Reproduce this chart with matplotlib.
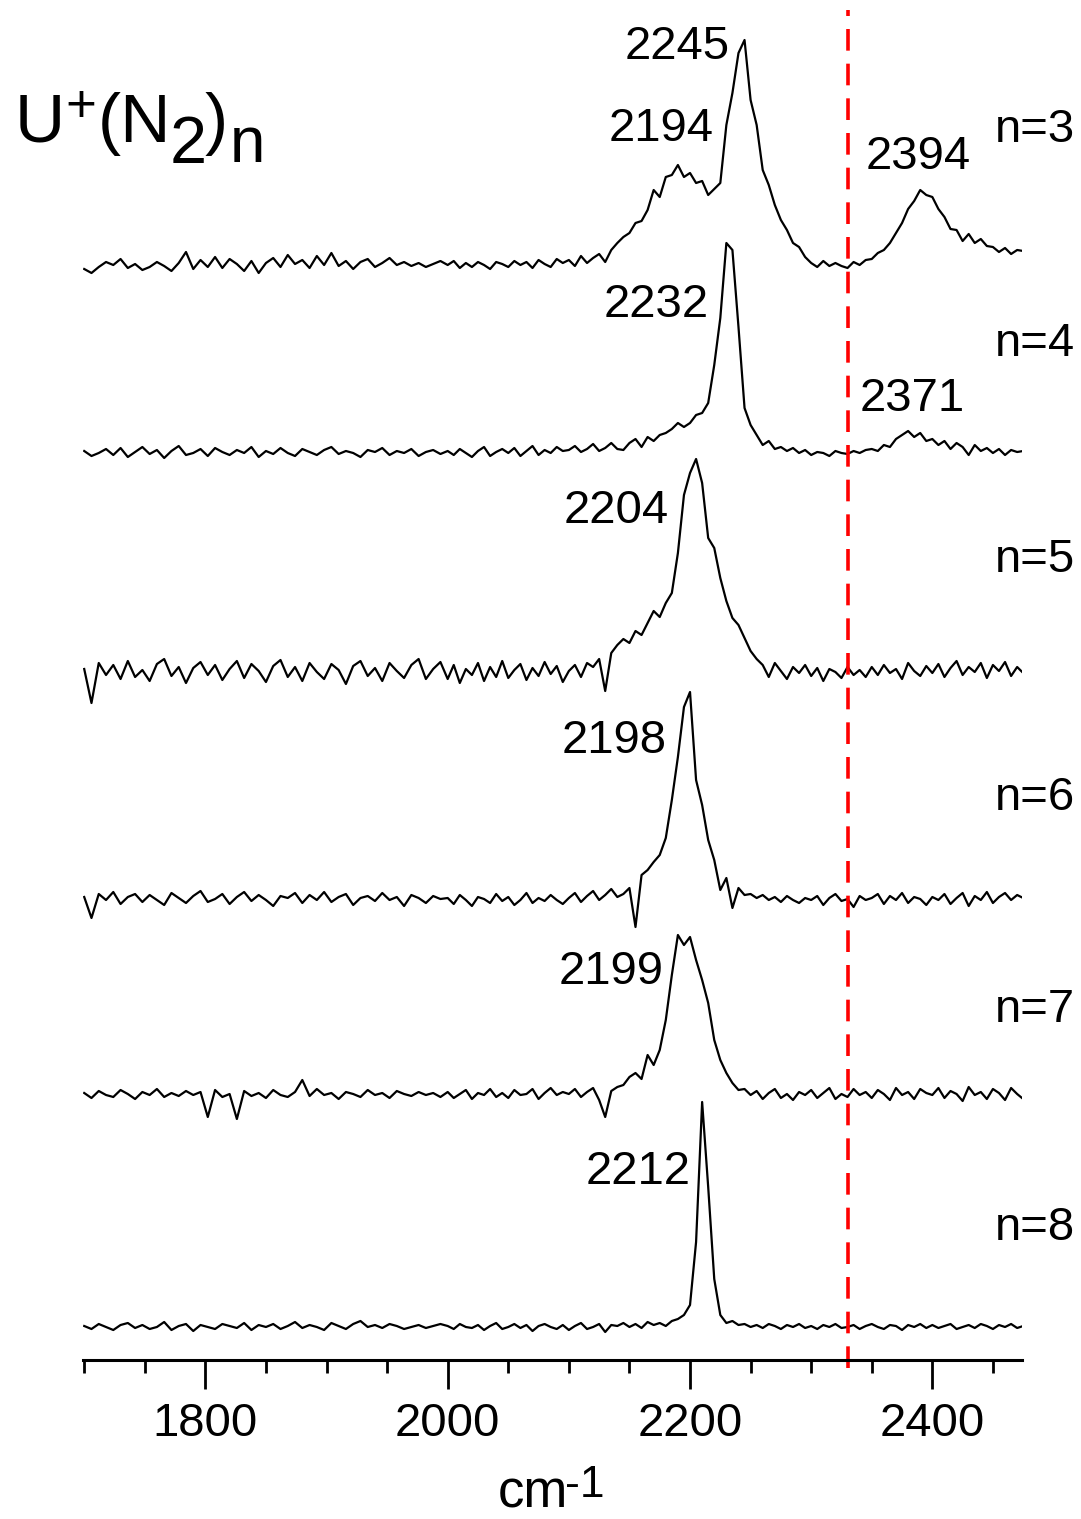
import numpy as np
import matplotlib.pyplot as plt
from matplotlib.ticker import MultipleLocator

plt.rcParams['font.family'] = ['Liberation Sans', 'DejaVu Sans']

# wavenumber grids: coarse scan below 2000, finer above
x_left = np.arange(1700, 2000, 6)
x_right = np.arange(2000, 2476, 5)
wavenumber = np.concatenate([x_left, x_right])

# intensities (arb. units) for each cluster size
n3_left = [-4, -8, -2, 3, 0, 6, -3, 1, -5, -2,
           3, -1, -6, 2, 13, -4, 5, -2, 8, -3,
           6, 1, -6, 4, -8, 2, 7, -2, 10, 1,
           5, -3, 9, 0, 12, -1, 4, -4, 3, 6,
           -2, 2, 7, 0, 3, -1, 2, -2, 1, 4]
n3_right = [0, 4, -3, 2, -2, 3, 0, -4, 3, 1,
            -2, 4, 0, 3, -3, 5, 1, -2, 6, 2,
            5, -1, 9, 2, 7, 11, 3, 15, 22, 28,
            32, 42, 44, 55, 75, 68, 88, 90, 100, 88,
            92, 82, 84, 70, 76, 82, 140, 172, 212, 225,
            165, 140, 95, 80, 60, 45, 35, 22, 18, 8,
            2, -2, 4, -1, 2, -1, -3, 3, 0, 5,
            6, 12, 15, 22, 32, 42, 56, 64, 75, 70,
            68, 56, 48, 36, 35, 24, 31, 22, 26, 19,
            18, 13, 17, 11, 15, 14]

n4_left = [2, -3, 0, 4, -2, 5, -4, 1, 6, -1,
           3, -5, 2, 7, -2, 0, 4, -3, 5, 1,
           -2, 3, 0, 6, -4, 2, -1, 5, 0, -3,
           4, 1, -2, 3, 6, -1, 2, 0, -4, 3,
           1, 5, -2, 2, 0, 4, -3, 1, 3, -1]
n4_right = [2, -2, 4, 0, -4, 2, 6, -3, 1, 4,
            0, 5, -3, 2, 7, -2, 3, 0, 6, 2,
            3, 7, 1, 4, 9, 2, 5, 10, 4, 3,
            10, 14, 6, 16, 12, 18, 20, 24, 30, 26,
            30, 38, 40, 50, 88, 135, 210, 203, 126, 45,
            28, 18, 8, 12, 4, 6, 2, 5, 0, 3,
            -2, 1, 0, -3, 2, 0, -1, 2, 0, 3,
            4, 2, 8, 6, 14, 18, 22, 16, 20, 12,
            14, 8, 12, 4, 10, 6, -2, 8, 2, 5,
            0, 4, -2, 3, 1, 2]

n5_left = [4, -30, 10, -2, 8, -6, 12, -4, 3, -8,
           9, 14, -3, 6, -10, 5, 11, -2, 8, -7,
           4, 12, -5, 9, 2, -9, 7, 13, -4, 6,
           -8, 10, 1, -6, 9, 3, -11, 7, 12, -3,
           5, -8, 10, 2, -5, 8, 14, -6, 4, 11]
n5_right = [-6, 8, -10, 4, -2, 10, -8, 6, -4, 12,
            -5, 3, 9, -7, 5, -3, 11, -1, 7, -9,
            2, 8, -4, 10, 6, 14, -18, 20, 28, 34,
            30, 42, 38, 50, 62, 56, 70, 80, 120, 178,
            200, 214, 190, 135, 125, 95, 72, 55, 48, 35,
            22, 14, 8, -4, 10, 2, -6, 6, 0, 8,
            -3, 5, -8, 4, 1, -5, 6, -2, 3, -4,
            6, -2, 8, 0, 4, -6, 10, 2, -3, 7,
            0, 9, -4, 5, 12, -2, 6, 1, 10, -5,
            8, 2, 11, -3, 6, 0]

n6_left = [3, -18, 6, 0, 8, -4, 3, 6, -2, 5,
           0, -5, 7, 2, -3, 4, 9, -2, 1, 6,
           -4, 3, 8, -1, 5, 0, -6, 4, 2, 7,
           -3, 5, 0, 8, -2, 3, 6, -5, 2, 4,
           -1, 7, 0, 3, -6, 5, 2, -3, 4, 1]
n6_right = [2, -4, 5, 0, -6, 3, 1, -3, 6, -1,
            3, -5, 0, 7, -3, 2, -1, 5, 0, -4,
            2, 7, -2, 4, 9, 0, 5, 11, 3, 6,
            12, -27, 25, 30, 38, 45, 62, 100, 143, 193,
            208, 120, 95, 60, 40, 10, 22, -8, 12, 5,
            6, 2, 5, 0, 3, -2, 4, 0, -3, 2,
            0, 4, -5, 2, 6, -1, 1, -7, 4, 0,
            2, 6, -4, 4, 0, 7, -3, 3, 1, -5,
            3, 0, 6, -4, 2, 7, -6, 4, 0, 8,
            -3, 3, 7, 0, 5, 2]

n7_left = [2, -3, 4, 0, -2, 5, 1, -4, 3, 0,
           6, -2, 2, -1, 4, 0, 3, -22, 5, -2,
           1, -24, 4, -1, 2, -3, 5, 0, -2, 3,
           15, -1, 6, 0, 2, -4, 3, 1, -2, 5,
           0, 2, -3, 4, 1, -1, 3, 0, 2, -2]
n7_right = [3, -3, 1, 5, -4, 2, 0, 6, -2, 2,
            -3, 5, 0, 1, 6, -4, 2, 7, 0, 3,
            1, 6, -2, 3, 7, -5, -22, 4, 8, 10,
            18, 22, 16, 40, 30, 45, 75, 120, 160, 150,
            158, 135, 115, 92, 55, 35, 22, 12, 5, 6,
            0, 4, -4, 2, 6, -3, 1, -5, 3, 0,
            5, -3, 2, 7, -4, 1, -2, 6, 0, 3,
            -3, 5, 1, -5, 7, 0, 3, -4, 6, 2,
            0, 7, -3, 4, 1, -6, 8, 0, 3, -4,
            6, 2, -5, 7, 1, -4]

n8_left = [1, -2, 3, 0, -3, 2, 4, -1, 2, -2,
           0, 5, -3, 1, 3, -4, 2, 0, -2, 3,
           1, -1, 4, -3, 2, 0, 3, -2, 1, 5,
           -1, 2, 0, -3, 4, 1, -2, 3, 6, 0,
           2, -1, 3, 1, -2, 0, 2, -1, 1, 3]
n8_right = [1, -2, 3, 0, -1, 2, -3, 1, 4, -2,
            0, 3, -1, 2, -4, 1, 3, 0, -2, 2,
            -3, 1, 4, -2, 0, 3, -5, 2, 1, 4,
            0, 3, -1, 5, 2, 4, 1, 6, 8, 12,
            22, 85, 225, 140, 48, 12, 4, 6, 2, 3,
            0, 2, -1, 3, 1, -2, 2, 0, 3, -1,
            1, -2, 2, 0, 3, -1, 0, 2, -2, 1,
            3, 0, -2, 2, 1, -3, 2, 0, 3, -1,
            2, -1, 1, 3, -2, 0, 2, -1, 3, 1,
            -2, 2, 0, 3, -1, 1]

sizes = [3, 4, 5, 6, 7, 8]
spectra = [n3_left + n3_right, n4_left + n4_right, n5_left + n5_right,
           n6_left + n6_right, n7_left + n7_right, n8_left + n8_right]
offsets = [1095, 907, 687, 460, 265, 33]
size_label_y = [1230, 1016, 800, 562, 350, 132]

peak_labels = ['2245', '2194', '2394', '2232', '2371', '2204', '2198', '2199', '2212']
peak_label_x = [2189, 2176, 2388, 2172, 2383, 2139, 2137, 2135, 2157]
peak_label_y = [1313, 1231, 1203, 1055, 961, 849, 619, 388, 188]

n2_free = 2330  # free N2 stretch

W, H = 1081, 1519
fig = plt.figure(figsize=(W / 100, H / 100), dpi=100)
ax = fig.add_axes([83 / W, 159 / H, (1022 - 83) / W, 1360 / H])

for spec, off in zip(spectra, offsets):
    ax.plot(wavenumber, np.array(spec) + off, color='black', lw=1.6)

ax.axvline(n2_free, ymin=-8 / 1360, ymax=1350 / 1360, color='#ff0000',
           lw=2.6, dashes=(6, 3.6), clip_on=False)

for lab, lx, ly in zip(peak_labels, peak_label_x, peak_label_y):
    ax.text(lx, ly, lab, fontsize=34, ha='center', va='center')

for n, ly in zip(sizes, size_label_y):
    ax.text(2518, ly, f'n={n}', fontsize=34, ha='right', va='center', clip_on=False)

ax.set_xlim(1699, 2474)
ax.set_ylim(0, 1360)
ax.set_yticks([])
for s in ['left', 'right', 'top']:
    ax.spines[s].set_visible(False)
ax.spines['bottom'].set_linewidth(2.2)
ax.xaxis.set_major_locator(MultipleLocator(200))
ax.xaxis.set_minor_locator(MultipleLocator(50))
ax.tick_params(axis='x', which='major', direction='out', length=21, width=2,
               labelsize=34, pad=9)
ax.tick_params(axis='x', which='minor', direction='out', length=9.5, width=2)
ax.patch.set_alpha(0)

# x label with full-size superscript
fig.text(498 / W, 1 - 1507 / H, 'cm', fontsize=38, ha='left', va='baseline')
fig.text(565 / W, 1 - 1497 / H, '-1', fontsize=32, ha='left', va='baseline')

# title U+(N2)n, pieces placed by hand so sub/superscripts stay large
title_parts = [('U', 15, 142, 50), ('+', 65, 122, 38), ('(N', 98, 142, 50),
               ('2', 170, 163, 48), (')', 205, 142, 50), ('n', 230, 162, 46)]
for txt, px, py, fs in title_parts:
    fig.text(px / W, 1 - py / H, txt, fontsize=fs, ha='left', va='baseline')

fig.savefig('out.png', dpi=100, facecolor='white')
